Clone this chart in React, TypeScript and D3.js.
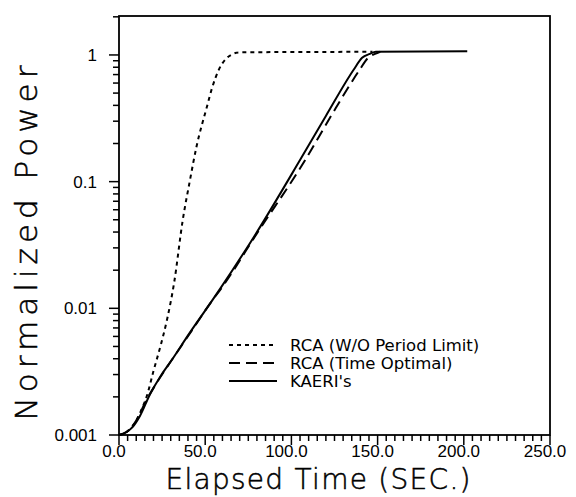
import React from "react";
import * as d3 from "d3";

// ---- data ----
const dottedT = [0, 5, 10, 14, 16, 20, 24, 28, 32, 37, 41, 45, 51, 54, 58, 62, 65, 68, 72, 110, 147];
const dottedP = [0.001, 0.00107, 0.0013, 0.0017, 0.002, 0.0032, 0.005, 0.0083, 0.016, 0.05, 0.1, 0.19, 0.39, 0.55, 0.77, 0.93, 1.0, 1.04, 1.05, 1.055, 1.06];

const dashedT = [0, 5, 10, 16, 22, 30, 41, 53, 60, 80, 108, 123, 139.5, 144.5, 148.5, 151.5];
const dashedP = [0.001, 0.00107, 0.0013, 0.0019, 0.0026, 0.0038, 0.0063, 0.011, 0.0148, 0.039, 0.148, 0.33, 0.76, 0.95, 1.02, 1.06];

const solidT = [0, 4, 8, 12, 18, 24, 30, 41, 53, 59, 80, 105, 120, 136, 141, 145.5, 149, 175, 202];
const solidP = [0.001, 0.00105, 0.00116, 0.0014, 0.0021, 0.0029, 0.0038, 0.0064, 0.011, 0.0145, 0.04, 0.148, 0.33, 0.76, 0.95, 1.02, 1.06, 1.065, 1.07];

const xTickValues = [0, 50, 100, 150, 200, 250];
const xTickLabels = ["0.0", "50.0", "100.0", "150.0", "200.0", "250.0"];
const yTickValues = [0.001, 0.01, 0.1, 1];
const yTickLabels = ["0.001", "0.01", "0.1", "1"];
const legendLabels = ["RCA (W/O Period Limit)", "RCA (Time Optimal)", "KAERI's"];

const W = 576, H = 497;
const L = 119, R = 550, T = 16, B = 435;

export default function App() {
  const x = d3.scaleLinear().domain([0, 250]).range([L, R]);
  const y = d3.scaleLog().domain([0.001, 2.03]).range([B, T]);
  const line = d3
    .line<[number, number]>()
    .x((d) => x(d[0]))
    .y((d) => y(d[1]))
    .curve(d3.curveMonotoneX);

  const zip = (a: number[], b: number[]) => a.map((v, i) => [v, b[i]] as [number, number]);

  const xMinor = d3.range(0, 251, 5);
  const yMinor: number[] = [];
  [0.001, 0.01, 0.1, 1].forEach((dec) => {
    for (let k = 2; k <= 9; k++) {
      const v = dec * k;
      if (v <= 2.03) yMinor.push(v);
    }
  });

  const series = [
    { d: zip(dottedT, dottedP), dash: "4,4" },
    { d: zip(dashedT, dashedP), dash: "11,6" },
    { d: zip(solidT, solidP), dash: "none" },
  ];

  const tickFont = "'Liberation Sans', Arial, sans-serif";
  const legendFont = "'DejaVu Sans', sans-serif";
  const titleFont = "'DejaVu Sans', sans-serif";

  return (
    <svg width={W} height={H} style={{ position: "absolute", left: 0, top: 0, background: "#fff" }}>
      <rect x={0} y={0} width={W} height={H} fill="#fff" />
      {/* frame */}
      <rect x={L} y={T} width={R - L} height={B - T} fill="none" stroke="#000" strokeWidth={1.8} />

      {/* x ticks */}
      {xMinor.map((v) => (
        <line key={"xm" + v} x1={x(v)} x2={x(v)} y1={B} y2={B + (v % 50 === 0 ? 10 : 6)} stroke="#000" strokeWidth={1.5} />
      ))}
      {xTickValues.map((v, i) => (
        <text key={"xl" + v} x={x(v) - 5} y={457} textAnchor="middle" fontFamily={tickFont} fontSize={17} fill="#000">
          {xTickLabels[i]}
        </text>
      ))}

      {/* y ticks */}
      {yMinor.map((v) => (
        <line key={"ym" + v} x1={L - 6} x2={L} y1={y(v)} y2={y(v)} stroke="#000" strokeWidth={1.5} />
      ))}
      {yTickValues.map((v, i) => (
        <g key={"yl" + v}>
          <line x1={L - 10} x2={L} y1={y(v)} y2={y(v)} stroke="#000" strokeWidth={1.5} />
          <text x={97} y={y(v) + 6} textAnchor="end" fontFamily={tickFont} fontSize={17} fill="#000">
            {yTickLabels[i]}
          </text>
        </g>
      ))}

      {/* curves */}
      {series.map((s, i) => (
        <path key={"s" + i} d={line(s.d) || ""} fill="none" stroke="#000" strokeWidth={2} strokeDasharray={s.dash} />
      ))}

      {/* legend */}
      {legendLabels.map((lab, i) => {
        const ly = 345 + i * 18;
        return (
          <g key={"lg" + i}>
            <line x1={229} x2={277} y1={ly} y2={ly} stroke="#000" strokeWidth={2} strokeDasharray={series[i].dash} />
            <text x={290} y={ly + 6} fontFamily={legendFont} fontSize={16.5} fill="#000">
              {lab}
            </text>
          </g>
        );
      })}

      {/* titles */}
      <text
        x={318}
        y={489}
        textAnchor="middle"
        fontFamily={titleFont}
        fontWeight={200}
        fontSize={28}
        textLength={305}
        lengthAdjust="spacing"
        fill="#000"
        stroke="#000"
        strokeWidth={0.5}
      >
        Elapsed Time (SEC.)
      </text>
      <text
        transform={`translate(37, 243) rotate(-90)`}
        textAnchor="middle"
        fontFamily={titleFont}
        fontWeight={200}
        fontSize={31}
        textLength={355}
        lengthAdjust="spacing"
        fill="#000"
        stroke="#000"
        strokeWidth={0.5}
      >
        Normalized Power
      </text>
    </svg>
  );
}
